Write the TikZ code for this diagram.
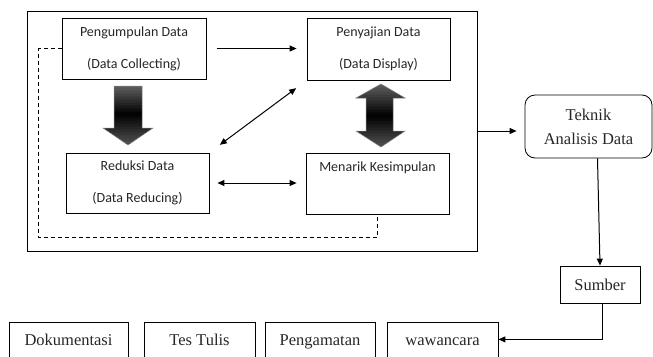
\documentclass[tikz,border=0pt]{standalone}
\usepackage{fontspec}
\setmainfont{Carlito}
\newfontfamily\tnr{Liberation Serif}
\usetikzlibrary{arrows.meta,calc}
\tikzset{
 box/.style={draw, line width=0.8pt, minimum width=143pt, minimum height=61pt, inner sep=0pt, align=center, font=\fontsize{14}{32}\selectfont, text=black!85},
 serifbox/.style={draw, line width=0.8pt, inner sep=0pt, align=center, font=\tnr\fontsize{16.5}{24}\selectfont, text=black!85},
 srcbox/.style={draw, line width=0.8pt, anchor=north, inner sep=0pt, minimum height=48pt, text height=23pt, text depth=25pt, font=\tnr\fontsize{16.5}{20}\selectfont, text=black!85},
 tip/.tip={Triangle[length=7pt,width=6pt]},
 conn/.style={line width=1pt, -tip},
 biconn/.style={line width=1pt, tip-tip},
 dashconn/.style={line width=1pt, dash pattern=on 4pt off 3pt},
 fatedge/.style={draw=black!50, line width=0.5pt},
}
\begin{document}
\begin{tikzpicture}[x=1pt,y=-1pt]
\useasboundingbox (0,0) rectangle (653,356);
\node[draw, line width=1pt, minimum width=450pt, minimum height=240pt, inner sep=0pt] (outer) at (252,131) {};
\node[box, minimum width=144pt] (pc) at (134,48.5) {Pengumpulan Data\\(Data Collecting)};
\node[box, minimum height=62pt] (pd) at (378.5,49) {Penyajian Data\\(Data Display)};
\node[box, minimum height=60pt] (rd) at (137.5,183) {Reduksi Data\\(Data Reducing)};
\node[box] (mk) at (377.5,183.5) {Menarik Kesimpulan\\\vphantom{()}};
\node[serifbox, rounded corners=10pt, minimum width=127pt, minimum height=63pt] (tk) at (588.5,126.5) {Teknik\\Analisis Data};
\node[serifbox, minimum width=80pt, minimum height=37pt] (sb) at (600,284.5) {Sumber};
\node[srcbox, minimum width=119pt] (dk) at (68.5,322) {Dokumentasi};
\node[srcbox, minimum width=111pt] (tt) at (199.5,322) {Tes Tulis};
\node[srcbox, minimum width=110pt] (pg) at (320,322) {Pengamatan};
\node[srcbox, minimum width=111pt] (ww) at (442.5,322) {wawancara};
% fat arrows: gradient built from thin strips (grey - black - grey)
\begin{scope}
 \clip (114,86) -- (142,86) -- (142,128) -- (153,128) -- (128,145) -- (103,128) -- (114,128) -- cycle;
 \foreach \i in {0,...,40} {
  \pgfmathsetmacro\yy{85+\i*1.5}
  \pgfmathsetmacro\pp{\yy<113 ? 62+38*(\yy-85)/28 : 100-34*(\yy-113)/33}
  \fill[black!\pp] (102,\yy) rectangle (154,\yy+1.7);
 }
\end{scope}
\draw[fatedge] (114,86) -- (142,86) -- (142,128) -- (153,128) -- (128,145) -- (103,128) -- (114,128) -- cycle;
\begin{scope}
 \clip (381,84) -- (405,98) -- (393,98) -- (393,131) -- (405,131) -- (381,147) -- (356,131) -- (366,131) -- (366,98) -- (356,98) -- cycle;
 \foreach \i in {0,...,43} {
  \pgfmathsetmacro\yy{83+\i*1.5}
  \pgfmathsetmacro\pp{\yy<115 ? 62+38*(\yy-83)/32 : 100-34*(\yy-115)/33}
  \fill[black!\pp] (355,\yy) rectangle (406,\yy+1.7);
 }
\end{scope}
\draw[fatedge] (381,84) -- (405,98) -- (393,98) -- (393,131) -- (405,131) -- (381,147) -- (356,131) -- (366,131) -- (366,98) -- (356,98) -- cycle;
% connectors
\draw[conn, shorten <=11pt, shorten >=10pt] (pc.east) -- (pc.east -| pd.west);
\draw[biconn, shorten <=13pt, shorten >=13pt] (rd.north east) -- (pd.south west);
\draw[biconn, shorten <=8pt, shorten >=9pt] (rd.east) -- (rd.east -| mk.west);
\draw[conn, shorten >=8pt] (outer.east) -- (outer.east -| tk.west);
\draw[conn] ([xshift=9pt]tk.south) -- (sb.north);
\draw[conn] ([xshift=2pt]sb.south) |- ([yshift=7pt]ww.east);
\draw[dashconn] (pc.west) -- ++(-23,0) |- ([yshift=-23pt]mk.south) -- (mk.south);
\end{tikzpicture}
\end{document}
